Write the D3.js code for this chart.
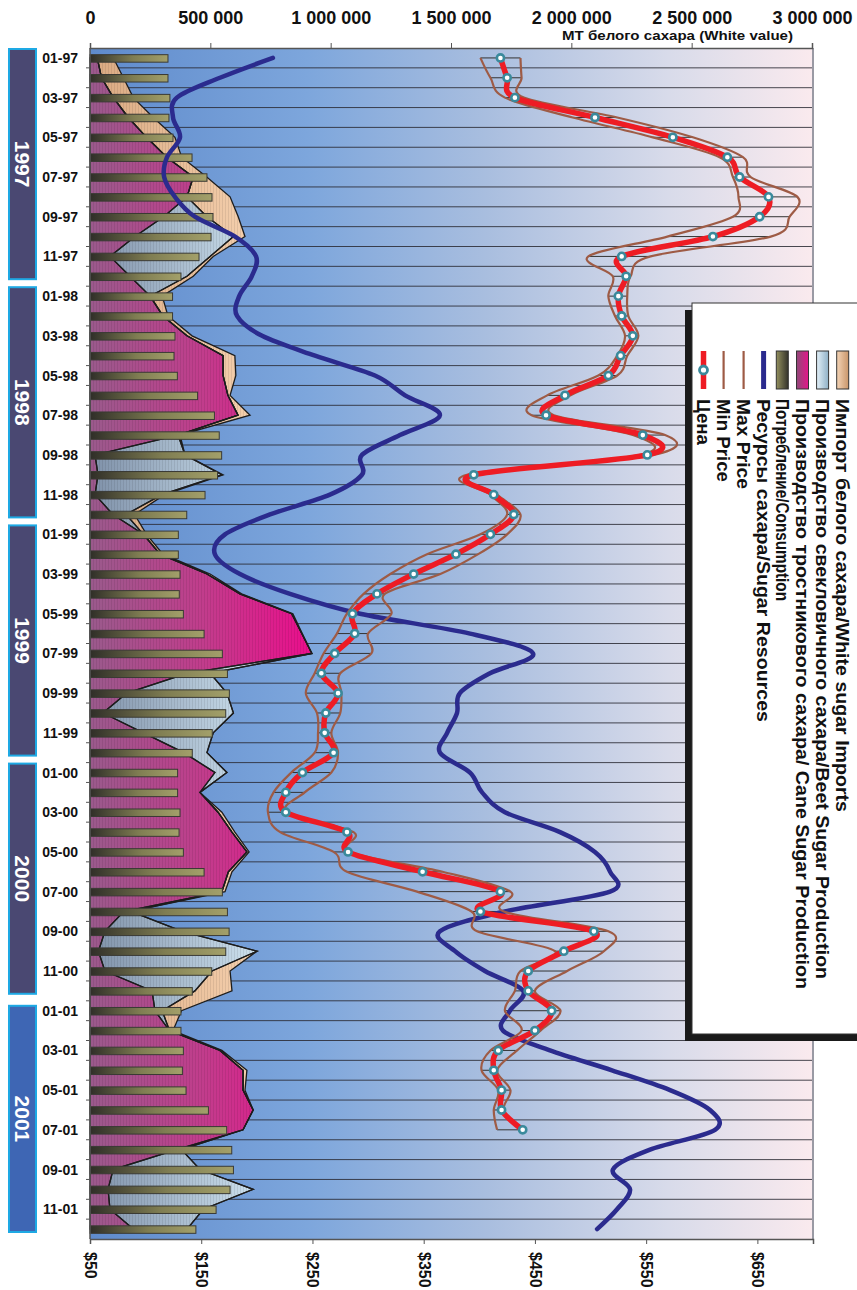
<!DOCTYPE html>
<html><head><meta charset="utf-8">
<script src="https://cdn.jsdelivr.net/npm/d3@7"></script>
<style>body{margin:0;background:#fff}svg{display:block}</style>
</head><body>
<script>
// ---------- DATA ----------
const years = [1997, 1998, 1999, 2000, 2001];
const monthNums = ["01","02","03","04","05","06","07","08","09","10","11","12"];
const months = years.flatMap(y => monthNums.map(m => m + "-" + String(y).slice(2)));
const tonneTicks = [0, 500000, 1000000, 1500000, 2000000, 2500000, 3000000];
const priceTicks = [50, 150, 250, 350, 450, 550, 650];

// thousand tonnes, one per month (60)
const caneProd = [30,48,97,159,235,319,429,403,306,187,83,166,
  250,303,403,553,553,573,615,366,21,33,21,95,
  222,291,486,623,838,880,922,403,153,54,222,390,
  519,457,532,590,652,575,548,140,62,35,62,258,
  270,330,540,636,636,678,636,360,96,75,83,180];
const beetProd = [0,0,0,0,0,0,0,0,180,409,416,237,
  0,0,0,0,0,0,0,0,374,515,278,55,
  0,0,0,0,0,0,0,96,416,542,290,96,
  50,0,0,0,0,0,0,30,321,659,445,178,
  30,0,0,0,0,0,0,20,361,603,388,223];
const imports = [67,91,83,104,118,62,56,179,130,48,13,26,
  50,21,21,49,53,9,50,8,0,5,11,35,
  13,12,13,7,5,2,0,0,0,0,0,0,
  0,0,16,12,9,15,13,0,0,0,75,154,
  80,15,8,16,8,0,0,0,0,0,0,0];
const consumption = [324,324,332,328,345,424,486,507,511,503,453,378,
  343,343,353,349,363,447,517,537,547,530,478,402,
  367,367,374,371,388,474,550,571,579,564,508,425,
  364,364,374,370,388,474,550,571,578,564,506,425,
  378,378,388,384,399,492,568,589,596,582,524,440];
const resources = [760,540,361,345,374,320,308,353,436,603,690,672,
  620,611,715,935,1184,1309,1454,1288,1130,1130,997,748,
  561,519,623,831,1122,1579,1841,1662,1537,1525,1484,1454,
  1579,1629,1724,1953,2098,2161,2161,1724,1454,1517,1641,1800,
  1745,1716,1911,2169,2410,2576,2597,2327,2173,2244,2190,2107];
// USD per tonne (55 months, 01-97 .. 07-01)
const priceVal = [419,425,432,504,574,623,634,660,652,610,528,532,
  525,528,538,527,516,477,460,547,551,395,413,431,
  410,379,341,308,286,288,270,258,273,262,261,269,
  241,226,226,281,282,349,419,401,503,476,444,444,
  465,450,417,413,420,420,439];
const minPrice = [401,410,423,484,556,616,628,633,628,569,498,520,
  516,522,531,524,507,461,447,538,545,389,410,425,
  401,353,320,296,281,272,260,252,244,254,255,252,
  231,215,210,221,269,281,344,393,398,468,437,432,
  423,438,410,402,417,413,416];
const maxPrice = [437,438,440,524,592,637,644,686,679,662,554,536,
  533,534,543,533,524,482,467,567,556,398,416,437,
  425,399,365,315,321,300,303,275,276,275,267,273,
  267,243,227,287,284,367,428,422,516,512,479,450,
  473,455,434,416,428,422,437];

const legendLabels = [
  "Импорт белого сахара/White sugar Imports",
  "Производство свекловичного сахара/Beet Sugar Production",
  "Производство тростникового сахара/ Cane Sugar Production",
  "Потребление/Consumption",
  "Ресурсы сахара/Sugar Resources",
  "Max Price",
  "Min Price",
  "Цена"
];

// ---------- LAYOUT ----------
const W = 857, H = 1290;
const L = 90, R = 813, T = 48, B = 1239;
const FONT = "'Liberation Sans', Arial, sans-serif";

const svg = d3.select("body").append("svg").attr("width", W).attr("height", H)
  .style("font-family", FONT);
const defs = svg.append("defs");

const x = d3.scaleLinear().domain([0, 3000000]).range([L, 812]);
const xp = d3.scaleLinear().domain([50, 700]).range([L, R]);
const y = d3.scaleBand().domain(months).range([T, B]);
const yc = m => y(m) + y.bandwidth() / 2;

function linGrad(id, stops, attrs) {
  const g = defs.append("linearGradient").attr("id", id);
  Object.entries(attrs).forEach(([k, v]) => g.attr(k, v));
  stops.forEach(([o, c]) => g.append("stop").attr("offset", o).attr("stop-color", c));
}
linGrad("bg", [[0, "#5f8bcc"], [0.3, "#7da6dc"], [0.55, "#a9bedf"], [0.8, "#d8dbea"], [1, "#faeaee"]],
  {gradientUnits: "userSpaceOnUse", x1: L, x2: R, y1: 0, y2: 0});
linGrad("caneG", [[0, "#9a5a8c"], [0.5, "#c23c8c"], [1, "#ee0a8c"]],
  {gradientUnits: "userSpaceOnUse", x1: L, x2: 320, y1: 0, y2: 0});
linGrad("beetG", [[0, "#7e90a8"], [1, "#d4e8f4"]],
  {gradientUnits: "userSpaceOnUse", x1: L, x2: 270, y1: 0, y2: 0});
linGrad("impG", [[0, "#d9a880"], [1, "#f6d2b0"]],
  {gradientUnits: "userSpaceOnUse", x1: L, x2: 260, y1: 0, y2: 0});
linGrad("barG", [[0, "#2f2e28"], [0.55, "#7f7d52"], [1, "#a3a06a"]],
  {x1: 0, x2: 1, y1: 0, y2: 0});
linGrad("lgImp", [[0, "#f4d4b6"], [1, "#c8956a"]], {x1: 0, x2: 1, y1: 0, y2: 0});
linGrad("lgBeet", [[0, "#e2f0f8"], [1, "#8fb0c6"]], {x1: 0, x2: 1, y1: 0, y2: 0});
linGrad("lgCane", [[0, "#8e4a78"], [1, "#e4168a"]], {x1: 0, x2: 1, y1: 0, y2: 0});
linGrad("lgCons", [[0, "#93905e"], [1, "#34332b"]], {x1: 0, x2: 1, y1: 0, y2: 0});

const pat = defs.append("pattern").attr("id", "stripes").attr("patternUnits", "userSpaceOnUse")
  .attr("width", 3).attr("height", 10);
pat.append("rect").attr("width", 1).attr("height", 10).attr("fill", "#000").attr("opacity", 0.08);

// background
svg.append("rect").attr("x", L).attr("y", T).attr("width", R - L).attr("height", B - T).attr("fill", "url(#bg)");

// grid lines at band boundaries
svg.append("g").selectAll("line").data(months.slice(1)).join("line")
  .attr("x1", L).attr("x2", R).attr("y1", d => y(d)).attr("y2", d => y(d))
  .attr("stroke", "#2a2a33").attr("stroke-width", 1).attr("opacity", 0.85);

// stacked areas
const rows = months.map((m, i) => ({month: m, cane: caneProd[i], beet: beetProd[i], imports: imports[i]}));
const stack = d3.stack().keys(["cane", "beet", "imports"]);
const series = stack(rows);
const area = d3.area()
  .y(d => yc(d.data.month))
  .x0(d => x(d[0] * 1000)).x1(d => x(d[1] * 1000));
const areaFill = {cane: "url(#caneG)", beet: "url(#beetG)", imports: "url(#impG)"};
const gA = svg.append("g");
series.forEach(s => {
  gA.append("path").attr("d", area(s)).attr("fill", areaFill[s.key]);
  gA.append("path").attr("d", area(s)).attr("fill", "url(#stripes)");
});
series.forEach(s => {
  gA.append("path").attr("d", area(s)).attr("fill", "none").attr("stroke", "#1d1d1d")
    .attr("stroke-width", 1.3).attr("stroke-linejoin", "miter");
});

// consumption bars
const barH = 7.5;
svg.append("g").selectAll("rect").data(months).join("rect")
  .attr("x", L).attr("y", d => yc(d) - barH / 2 + 0.5)
  .attr("width", (d, i) => x(consumption[i] * 1000) - L).attr("height", barH)
  .attr("fill", "url(#barG)").attr("stroke", "#3a3a34").attr("stroke-width", 1);

// right border of plot
svg.append("line").attr("x1", R).attr("x2", R).attr("y1", T).attr("y2", B)
  .attr("stroke", "#9a9aa4").attr("stroke-width", 2);

// top axis (tonnes)
const fmtLocale = d3.formatLocale({decimal: ".", thousands: " ", grouping: [3], currency: ["", ""]});
const gTop = svg.append("g").attr("transform", `translate(0,${T})`)
  .call(d3.axisTop(x).tickValues(tonneTicks).tickSize(5).tickPadding(4).tickFormat(fmtLocale.format(",")));
gTop.select(".domain").attr("stroke", "#555").attr("stroke-width", 1.5);
gTop.selectAll(".tick line").attr("stroke", "#555");
gTop.selectAll(".tick text").attr("y", -24).attr("dy", null).attr("dominant-baseline", "auto")
  .attr("font-size", 18).attr("font-weight", "bold").attr("fill", "#111").attr("font-family", FONT);

// axis title
svg.append("text").attr("x", 562).attr("y", 40).attr("font-size", 13).attr("font-weight", "bold")
  .attr("fill", "#111").attr("textLength", 231).attr("lengthAdjust", "spacingAndGlyphs")
  .text("МТ белого сахара (White value)");

// left axis (months)
svg.append("line").attr("x1", L).attr("x2", L).attr("y1", T).attr("y2", B).attr("stroke", "#555").attr("stroke-width", 1.5);
svg.append("g").selectAll("line").data(months.slice(1)).join("line")
  .attr("x1", L - 4).attr("x2", L).attr("y1", d => y(d)).attr("y2", d => y(d)).attr("stroke", "#555");
svg.append("g").selectAll("text").data(months.filter((m, i) => i % 2 === 0)).join("text")
  .attr("x", 78).attr("y", d => yc(d)).attr("text-anchor", "end").attr("dominant-baseline", "central")
  .attr("font-size", 14).attr("font-weight", "bold").attr("fill", "#111").text(d => d);

// year boxes
const gY = svg.append("g");
years.forEach((yr, k) => {
  const y0 = y(months[k * 12]) + (k === 4 ? 5 : 1);
  const y1 = y(months[k * 12 + 11]) + y.bandwidth() - 7;
  gY.append("rect").attr("x", 9).attr("y", y0).attr("width", 27).attr("height", y1 - y0)
    .attr("fill", yr === 2001 ? "#3e66b4" : "#4a4872").attr("stroke", "#1ea9e4").attr("stroke-width", 2);
  gY.append("text").attr("transform", `translate(22.5,${(y0 + y1) / 2}) rotate(90)`)
    .attr("text-anchor", "middle").attr("dominant-baseline", "central")
    .attr("font-size", 21).attr("font-weight", "bold").attr("fill", "#fff").text(yr);
});

// bottom axis (price)
const gBot = svg.append("g").attr("transform", `translate(0,${B})`)
  .call(d3.axisBottom(xp).tickValues(priceTicks).tickSize(5).tickFormat(d => "$" + d));
gBot.select(".domain").attr("stroke", "#555").attr("stroke-width", 1.5);
gBot.selectAll(".tick line").attr("stroke", "#555");
gBot.selectAll(".tick text").attr("y", null).attr("dy", null)
  .attr("transform", "translate(0,13) rotate(90)").attr("text-anchor", "start")
  .attr("dominant-baseline", "central").attr("font-size", 16).attr("font-weight", "bold")
  .attr("fill", "#111").attr("font-family", FONT);

// high-low lines
const pMonths = months.slice(0, priceVal.length);
svg.append("g").selectAll("line").data(pMonths).join("line")
  .attr("x1", (d, i) => xp(minPrice[i])).attr("x2", (d, i) => xp(maxPrice[i]))
  .attr("y1", d => yc(d)).attr("y2", d => yc(d)).attr("stroke", "#333").attr("stroke-width", 1);

// resources line
const lineT = d3.line().x(d => x(d[1] * 1000)).y(d => yc(d[0])).curve(d3.curveCardinal.tension(0));
svg.append("path").attr("d", lineT(months.map((m, i) => [m, resources[i]])))
  .attr("fill", "none").attr("stroke", "#2b2b8e").attr("stroke-width", 4.5).attr("stroke-linecap", "round");

// price lines
const lineP = d3.line().x(d => xp(d[1])).y(d => yc(d[0])).curve(d3.curveCardinal.tension(0));
[minPrice, maxPrice].forEach(arr => {
  svg.append("path").attr("d", lineP(pMonths.map((m, i) => [m, arr[i]])))
    .attr("fill", "none").attr("stroke", "#9e5b45").attr("stroke-width", 2.2);
});
svg.append("path").attr("d", lineP(pMonths.map((m, i) => [m, priceVal[i]])))
  .attr("fill", "none").attr("stroke", "#ee1c24").attr("stroke-width", 5.5);
svg.append("g").selectAll("circle").data(pMonths).join("circle")
  .attr("cx", (d, i) => xp(priceVal[i])).attr("cy", d => yc(d)).attr("r", 3.6)
  .attr("fill", "#fff").attr("stroke", "#3a8a9c").attr("stroke-width", 2.6);

// legend
const gL = svg.append("g");
gL.append("rect").attr("x", 685).attr("y", 310).attr("width", 180).attr("height", 731).attr("fill", "#1a1a1a");
gL.append("rect").attr("x", 692).attr("y", 303).attr("width", 180).attr("height", 731)
  .attr("fill", "#fff").attr("stroke", "#333").attr("stroke-width", 1);
const colX = [842.7, 822.6, 802.5, 782.3, 763.6, 743.6, 723.6, 703.5];
const labLen = [413, 580, 590, 202, 323, 90, 83, 46];
const sy0 = 351, sy1 = 389;
const swatchFill = ["url(#lgImp)", "url(#lgBeet)", "url(#lgCane)", "url(#lgCons)"];
legendLabels.forEach((lab, k) => {
  const cx = colX[k];
  if (k < 4) {
    gL.append("rect").attr("x", cx - 6).attr("y", sy0).attr("width", 12).attr("height", sy1 - sy0)
      .attr("fill", swatchFill[k]).attr("stroke", "#333").attr("stroke-width", 1);
  } else if (k === 4) {
    gL.append("line").attr("x1", cx).attr("x2", cx).attr("y1", sy0).attr("y2", sy1)
      .attr("stroke", "#2b2b8e").attr("stroke-width", 5);
  } else if (k < 7) {
    gL.append("line").attr("x1", cx).attr("x2", cx).attr("y1", sy0).attr("y2", sy1)
      .attr("stroke", "#9e5b45").attr("stroke-width", 2.2);
  } else {
    gL.append("line").attr("x1", cx).attr("x2", cx).attr("y1", sy0).attr("y2", sy1)
      .attr("stroke", "#ee1c24").attr("stroke-width", 5.5);
    gL.append("circle").attr("cx", cx).attr("cy", (sy0 + sy1) / 2).attr("r", 4)
      .attr("fill", "#fff").attr("stroke", "#3a8a9c").attr("stroke-width", 2.8);
  }
  gL.append("text").attr("transform", `translate(${cx},399) rotate(90)`)
    .attr("text-anchor", "start").attr("dominant-baseline", "central")
    .attr("font-size", 18.5).attr("font-weight", "bold").attr("fill", "#111")
    .attr("textLength", labLen[k]).attr("lengthAdjust", "spacingAndGlyphs").text(lab);
});
</script>
</body></html>
